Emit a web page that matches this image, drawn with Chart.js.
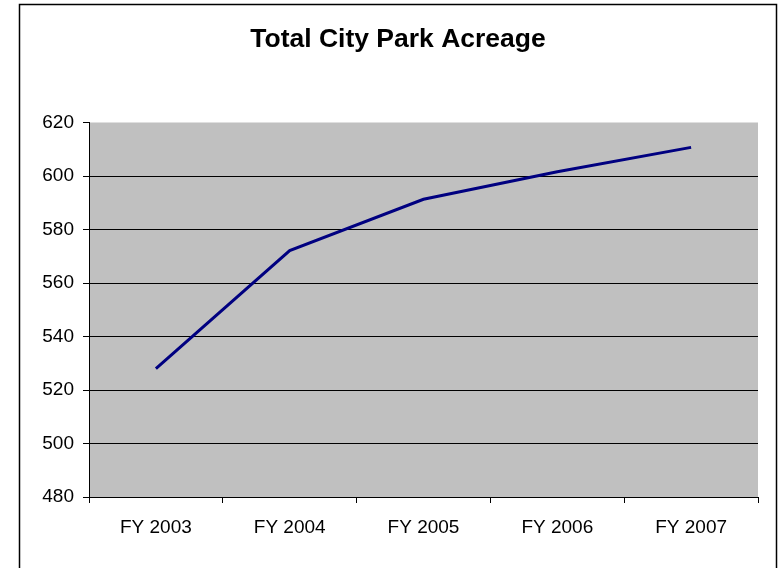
<!DOCTYPE html>
<html>
<head>
<meta charset="utf-8">
<script src="https://cdn.jsdelivr.net/npm/chart.js@4.4.0/dist/chart.umd.min.js"></script>
<style>
  html, body { margin: 0; padding: 0; background: #fff; }
  #c { display: block; }
</style>
</head>
<body>
<canvas id="c" width="779" height="568"></canvas>
<script>
const categories = ["FY 2003", "FY 2004", "FY 2005", "FY 2006", "FY 2007"];
const acreage = [528.0, 572.1, 591.3, 601.6, 610.7];
const yMin = 480, yMax = 620, yStep = 20;
const chartTitle = "Total City Park Acreage";

const frameAndBackground = {
  id: 'frameAndBackground',
  beforeDraw(chart) {
    const ctx = chart.ctx, a = chart.chartArea;
    ctx.save();
    ctx.fillStyle = '#ffffff';
    ctx.fillRect(0, 0, chart.width, chart.height);
    ctx.fillStyle = '#C0C0C0';
    ctx.fillRect(a.left, a.top, a.right - a.left, a.bottom - a.top);
    ctx.strokeStyle = '#000000';
    ctx.lineWidth = 1.5;
    ctx.strokeRect(19.5, 4.5, 757, 600);
    ctx.restore();
  }
};

new Chart(document.getElementById('c'), {
  type: 'line',
  data: {
    labels: categories,
    datasets: [{
      data: acreage,
      borderColor: '#000080',
      backgroundColor: '#000080',
      borderWidth: 3,
      pointRadius: 0,
      tension: 0,
      fill: false
    }]
  },
  options: {
    responsive: false,
    animation: false,
    layout: { padding: { left: 19, right: 2, top: 0, bottom: 0 } },
    plugins: {
      legend: { display: false },
      tooltip: { enabled: false },
      title: {
        display: true,
        text: chartTitle,
        color: '#000000',
        font: { family: '"Liberation Sans", Arial, sans-serif', size: 26.5, weight: 'bold', lineHeight: 1.2 },
        padding: { top: 23.6, bottom: 67.1 }
      }
    },
    scales: {
      x: {
        offset: true,
        afterFit(scale) { scale.height = 71; },
        grid: {
          offset: true,
          drawOnChartArea: false,
          drawTicks: true,
          tickLength: 6,
          color: '#000000',
          tickColor: '#000000'
        },
        border: { display: true, color: '#000000', width: 1 },
        ticks: {
          color: '#000000',
          padding: 13.5,
          maxRotation: 0,
          font: { family: '"Liberation Sans", Arial, sans-serif', size: 19 }
        }
      },
      y: {
        min: yMin,
        max: yMax,
        afterFit(scale) { scale.width = 70; },
        grid: {
          drawTicks: true,
          tickLength: 6,
          color: (ctx) => (ctx.tick && ctx.tick.value === yMax) ? 'rgba(0,0,0,0)' : '#000000',
          tickColor: '#000000',
          lineWidth: 1
        },
        border: { display: true, color: '#000000', width: 1 },
        ticks: {
          stepSize: yStep,
          color: '#000000',
          padding: 9,
          font: { family: '"Liberation Sans", Arial, sans-serif', size: 19 }
        }
      },
      rightGap: {
        type: 'linear',
        position: 'right',
        min: yMin,
        max: yMax,
        afterFit(scale) { scale.width = 19; },
        grid: { display: false, drawTicks: false },
        border: { display: false },
        ticks: { display: false }
      }
    }
  },
  plugins: [frameAndBackground]
});
</script>
</body>
</html>
